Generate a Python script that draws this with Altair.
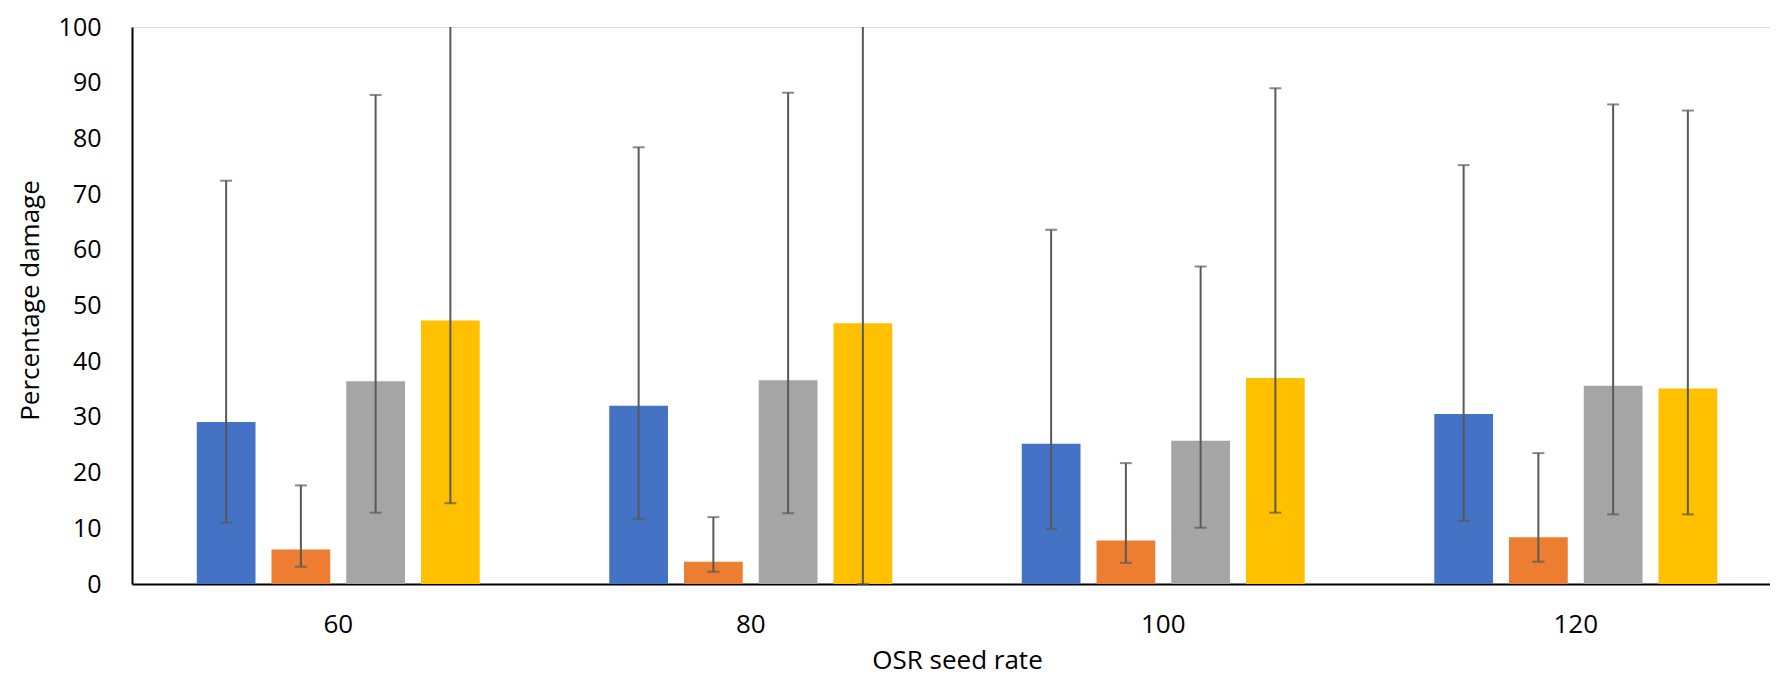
import altair as alt
import pandas as pd

# OSR seed rates (categories) and four unnamed series
rates = ["60", "80", "100", "120"]
series = ["S1", "S2", "S3", "S4"]
colors = ["#4472C4", "#ED7D31", "#A5A5A5", "#FFC000"]

s1_val = [29.1, 32.0, 25.2, 30.5]
s1_lo = [11.0, 11.7, 9.9, 11.3]
s1_hi = [72.4, 78.4, 63.6, 75.2]

s2_val = [6.2, 4.0, 7.8, 8.4]
s2_lo = [3.1, 2.2, 3.8, 4.0]
s2_hi = [17.7, 12.0, 21.7, 23.5]

s3_val = [36.4, 36.6, 25.7, 35.6]
s3_lo = [12.8, 12.7, 10.1, 12.5]
s3_hi = [87.8, 88.2, 57.0, 86.1]

s4_val = [47.3, 46.8, 37.0, 35.1]
s4_lo = [14.5, 0.0, 12.8, 12.5]
s4_hi = [100.0, 100.0, 89.0, 85.0]

vals = [s1_val, s2_val, s3_val, s4_val]
los = [s1_lo, s2_lo, s3_lo, s4_lo]
his = [s1_hi, s2_hi, s3_hi, s4_hi]

rows = []
for si, s in enumerate(series):
    for ri, r in enumerate(rates):
        rows.append({"rate": r, "series": s, "value": vals[si][ri],
                     "lo": los[si][ri], "hi": his[si][ri]})
df = pd.DataFrame(rows)

FONT = "Open Sans"
ERR = "#595959"

x_scale = alt.Scale(paddingInner=0.314, paddingOuter=0.157, range=[0, 1650])
xo_scale = alt.Scale(paddingInner=0.214, paddingOuter=0)
y_scale = alt.Scale(domain=[0, 100], nice=False)

x_enc = alt.X("rate:N", sort=rates, scale=x_scale,
              axis=alt.Axis(title="OSR seed rate", labelAngle=0, ticks=False,
                            labelPadding=27, labelFontSize=26, labelColor="#000",
                            labelFont=FONT, titleFont=FONT, titleFontSize=26,
                            titleFontWeight="normal", titleColor="#000",
                            titleY=89, titleBaseline="bottom",
                            domainColor="#000", domainWidth=2))
xo_enc = alt.XOffset("series:N", sort=series, scale=xo_scale)

bars = alt.Chart(df).mark_bar().encode(
    x=x_enc,
    xOffset=xo_enc,
    y=alt.Y("value:Q", scale=y_scale,
            axis=alt.Axis(title="Percentage damage", values=list(range(0, 101, 10)),
                          grid=False, ticks=False, labelPadding=31,
                          labelFontSize=25, labelColor="#000", labelFont=FONT,
                          titleFont=FONT, titleFontSize=26, titleFontWeight="normal",
                          titleColor="#000", titleX=-102, titleY=273,
                          titleBaseline="middle", titleAngle=-90,
                          domainColor="#000", domainWidth=2)),
    color=alt.Color("series:N", sort=series,
                    scale=alt.Scale(domain=series, range=colors), legend=None),
)

rules = alt.Chart(df).mark_rule(color=ERR, strokeWidth=2, clip=True).encode(
    x=alt.X("rate:N", sort=rates, scale=x_scale),
    xOffset=alt.XOffset("series:N", sort=series, scale=xo_scale),
    y=alt.Y("lo:Q", scale=y_scale),
    y2="hi:Q",
)

caps_lo = alt.Chart(df).mark_tick(color=ERR, thickness=2, size=12).encode(
    x=alt.X("rate:N", sort=rates, scale=x_scale),
    xOffset=alt.XOffset("series:N", sort=series, scale=xo_scale),
    y=alt.Y("lo:Q", scale=y_scale),
)
caps_hi = alt.Chart(df[df["hi"] < 100]).mark_tick(color=ERR, thickness=2, size=12).encode(
    x=alt.X("rate:N", sort=rates, scale=x_scale),
    xOffset=alt.XOffset("series:N", sort=series, scale=xo_scale),
    y=alt.Y("hi:Q", scale=y_scale),
)

chart = alt.layer(bars, rules, caps_lo, caps_hi).properties(
    width=1638, height=557,
    autosize=alt.AutoSizeParams(type="none"),
    padding={"left": 124, "top": 19, "right": 0, "bottom": 95},
).configure_view(strokeWidth=0).configure(background="white")

chart.save("out.html", embed_options={"renderer": "svg", "actions": False})
